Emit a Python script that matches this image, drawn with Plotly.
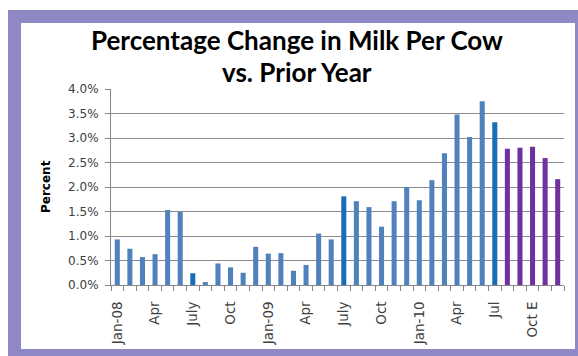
import plotly.graph_objects as go

months = ["Jan-08","Feb-08","Mar-08","Apr-08","May-08","Jun-08","Jul-08","Aug-08","Sep-08","Oct-08","Nov-08","Dec-08",
          "Jan-09","Feb-09","Mar-09","Apr-09","May-09","Jun-09","Jul-09","Aug-09","Sep-09","Oct-09","Nov-09","Dec-09",
          "Jan-10","Feb-10","Mar-10","Apr-10","May-10","Jun-10","Jul-10","Aug-10","Sep-10","Oct-10","Nov-10","Dec-10"]
pct_change = [0.93,0.74,0.57,0.63,1.53,1.49,0.24,0.06,0.44,0.36,0.25,0.78,
              0.64,0.65,0.29,0.41,1.05,0.93,1.81,1.71,1.59,1.19,1.71,2.00,
              1.73,2.14,2.69,3.48,3.02,3.75,3.32,2.78,2.80,2.82,2.59,2.16]
kind = ["actual"]*6 + ["july"] + ["actual"]*11 + ["july"] + ["actual"]*11 + ["july"] + ["estimate"]*5
tick_labels = ["Jan-08","Apr","July","Oct","Jan-09","Apr","July","Oct","Jan-10","Apr","Jul","Oct E"]
tick_idx = list(range(0, 36, 3))
y_ticks = [0.0,0.5,1.0,1.5,2.0,2.5,3.0,3.5,4.0]

palette = {"actual": "#4F81BD", "july": "#1B6DB8", "estimate": "#7030A0"}
colors = [palette[k] for k in kind]
xs = list(range(len(months)))

fig = go.Figure(go.Bar(x=xs, y=pct_change, marker=dict(color=colors, line=dict(width=0)),
                       width=0.4, hovertext=months))

W, H = 578, 356
L, R, T, B = 111, 14, 89, 71
pw, ph = W - L - R, H - T - B
def px_x(p): return (p - L) / pw
def px_y(p): return (H - B - p) / ph

fig.update_layout(
    width=W, height=H, margin=dict(l=L, r=R, t=T, b=B),
    paper_bgcolor="white", plot_bgcolor="rgba(0,0,0,0)",
    showlegend=False, bargap=0.6,
    shapes=[
        dict(type="rect", xref="paper", yref="paper", layer="below",
             x0=px_x(8), x1=px_x(590), y0=px_y(370), y1=px_y(10),
             fillcolor="#8E89C5", line=dict(width=0)),
        dict(type="rect", xref="paper", yref="paper", layer="below",
             x0=px_x(21), x1=px_x(575), y0=px_y(349), y1=px_y(23),
             fillcolor="white", line=dict(width=0)),
    ],
    annotations=[
        dict(text="<b>Percentage Change in Milk Per Cow</b>", xref="paper", yref="paper",
             x=px_x(297), y=px_y(40), xanchor="center", yanchor="middle", showarrow=False,
             font=dict(family="Lato", size=26, color="black")),
        dict(text="<b>vs. Prior Year</b>", xref="paper", yref="paper",
             x=px_x(297), y=px_y(72), xanchor="center", yanchor="middle", showarrow=False,
             font=dict(family="Lato", size=26, color="black")),
        dict(text="<b>Percent</b>", xref="paper", yref="paper",
             x=px_x(46), y=px_y(187), xanchor="center", yanchor="middle", showarrow=False,
             textangle=-90, font=dict(family="DejaVu Sans", size=12, color="black")),
    ],
)
fig.update_xaxes(
    range=[-0.5, 35.5], tickmode="array", tickvals=tick_idx, ticktext=tick_labels,
    tickangle=-90, ticks="", ticklabelstandoff=10,
    tickfont=dict(family="DejaVu Sans", size=13.5, color="#404040"),
    showline=True, linecolor="#868686", linewidth=1, showgrid=False, zeroline=False,
    minor=dict(ticks="outside", tickmode="linear", tick0=-0.5, dtick=1, ticklen=5,
               tickcolor="#868686", showgrid=False),
)
fig.update_yaxes(
    range=[0, 4.0], tickmode="array", tickvals=y_ticks,
    ticktext=[f"{v:.1f}%" for v in y_ticks],
    ticks="outside", ticklen=5, tickcolor="#868686", ticklabelstandoff=4,
    tickfont=dict(family="DejaVu Sans", size=12, color="#404040"),
    showline=True, linecolor="#868686", linewidth=1,
    showgrid=True, gridcolor="#8C8C8C", gridwidth=1, zeroline=False,
)

fig.write_html("out.html")
